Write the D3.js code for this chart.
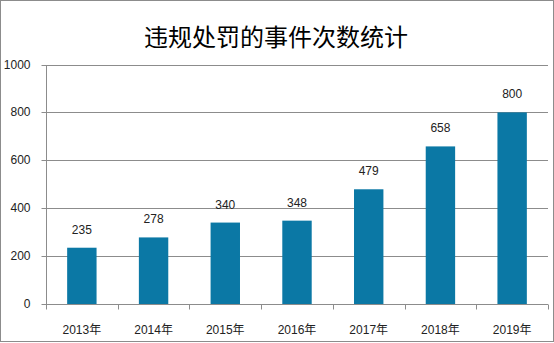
<!DOCTYPE html>
<html><head><meta charset="utf-8">
<script src="https://cdnjs.cloudflare.com/ajax/libs/d3/7.8.5/d3.min.js"></script>
<style>body{margin:0;background:#fff}svg{display:block}</style>
</head><body><svg id="c" width="554" height="343"></svg>
<script>
const title = "违规处罚的事件次数统计";
const categories = ["2013年","2014年","2015年","2016年","2017年","2018年","2019年"];
const values = [235, 278, 340, 348, 479, 658, 800];
const yTicks = [0, 200, 400, 600, 800, 1000];

const svg = d3.select("#c");
const W = 554, H = 343;
const m = {left: 46, right: 6, top: 64.5, bottom: 39};
const font = "'Liberation Sans','Noto Sans CJK SC',sans-serif";
svg.append("rect").attr("x",0.5).attr("y",0.5).attr("width",W-1).attr("height",H-2)
  .attr("fill","#fff").attr("stroke","#8c8c8c").attr("stroke-width",1);

const x = d3.scaleBand().domain(categories).range([m.left, W - m.right]).paddingInner(0.59).paddingOuter(0.295);
const y = d3.scaleLinear().domain([0, 1000]).range([H - m.bottom, m.top]);

svg.append("text").attr("x", 276).attr("y", 46).attr("text-anchor","middle")
  .attr("font-family","'Noto Sans CJK SC',sans-serif").attr("font-size",24).attr("fill","#000").text(title);

// grid
svg.append("g").selectAll("line").data(yTicks.filter(d=>d>0)).join("line")
  .attr("x1", m.left).attr("x2", W - m.right)
  .attr("y1", d => Math.round(y(d))+0.5).attr("y2", d => Math.round(y(d))+0.5)
  .attr("stroke","#8c8c8c").attr("stroke-width",1);

// y axis
const ya = svg.append("g").attr("transform", `translate(${m.left+0.5},0.5)`)
  .call(d3.axisLeft(y).tickValues(yTicks).tickSize(5).tickPadding(11).tickFormat(d3.format("d")));
ya.selectAll("line").attr("stroke","#8c8c8c");
ya.select(".domain").attr("stroke","#8c8c8c").attr("d", `M0,${y(1000)}V${y(0)}`);
ya.selectAll("text").attr("font-family",font).attr("font-size",12).attr("fill","#222");
ya.selectAll(".tick").attr("transform", d => `translate(0,${Math.round(y(d))})`);

// bars
svg.append("g").selectAll("rect").data(values).join("rect")
  .attr("x", (d,i) => x(categories[i])).attr("width", x.bandwidth())
  .attr("y", d => y(d)).attr("height", d => y(0) - y(d)).attr("fill","#0b78a5");

// labels
svg.append("g").selectAll("text").data(values).join("text")
  .attr("x", (d,i) => x(categories[i]) + x.bandwidth()/2).attr("y", d => y(d) - 14)
  .attr("text-anchor","middle").attr("font-family",font).attr("font-size",12).attr("fill","#222")
  .text(d => d);

// x axis
const xb = svg.append("g").attr("transform", `translate(0,${Math.round(y(0))+0.5})`);
xb.append("line").attr("x1", m.left).attr("x2", W - m.right).attr("stroke","#8c8c8c");
const step = (W - m.right - m.left) / categories.length;
xb.selectAll("line.t").data(d3.range(categories.length+1)).join("line").attr("class","t")
  .attr("x1", i => Math.round(m.left + i*step)+0.5).attr("x2", i => Math.round(m.left + i*step)+0.5)
  .attr("y1",0).attr("y2",5).attr("stroke","#8c8c8c");
xb.selectAll("text").data(categories).join("text")
  .attr("x", d => x(d) + x.bandwidth()/2).attr("y", 29)
  .attr("text-anchor","middle").attr("font-family",font).attr("font-size",12).attr("fill","#222")
  .text(d => d);
</script></body></html>
